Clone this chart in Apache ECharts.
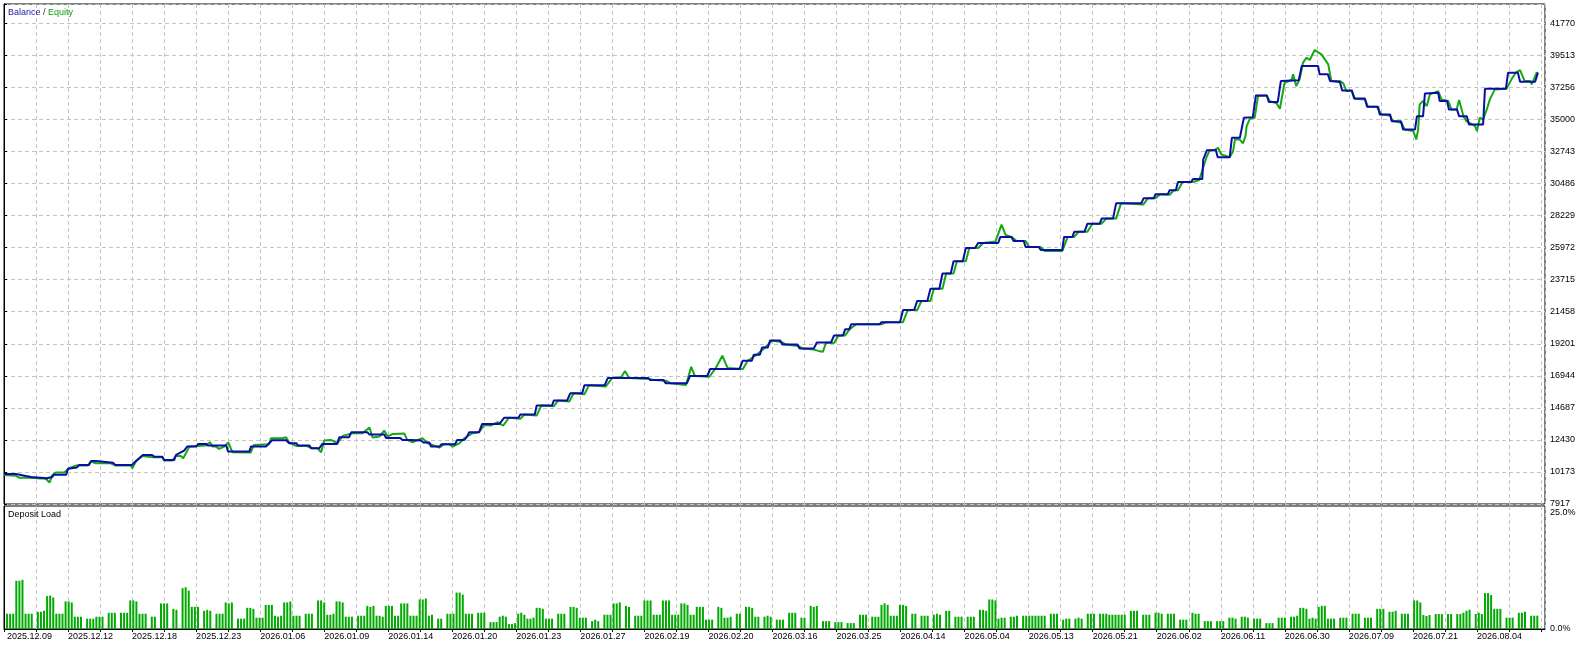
<!DOCTYPE html>
<html><head><meta charset="utf-8">
<script src="https://cdn.jsdelivr.net/npm/echarts@6/dist/echarts.min.js"></script>
<style>html,body{margin:0;padding:0;background:#fff;}#c{width:1590px;height:646px;}</style>
</head><body><div id="c"></div>
<script>
// ---- tick labels ----
const xTickLabels = ['2025.12.09','2025.12.12','2025.12.18','2025.12.23','2026.01.06','2026.01.09','2026.01.14','2026.01.20','2026.01.23','2026.01.27','2026.02.19','2026.02.20','2026.03.16','2026.03.25','2026.04.14','2026.05.04','2026.05.13','2026.05.21','2026.06.02','2026.06.11','2026.06.30','2026.07.09','2026.07.21','2026.08.04'];
const yTickLabels = ['7917','10173','12430','14687','16944','19201','21458','23715','25972','28229','30486','32743','35000','37256','39513','41770'];
const loadTickLabels = ['0.0%','25.0%'];

// ---- series (x = deal slot index) ----
const balance = [
[0,10033],[3.9,10033],[7.1,9892],[8.8,9821],[13.9,9730],[15.6,9821],[16.3,9984],[20.2,9984],[20.8,10407],[23.7,10491],[24.4,10668],[27.6,10668],[28.3,10950],[29.9,10950],[30.5,10830],[35.4,10830],[36.1,10668],[41.6,10668],[42.6,10900],[43.9,11140],[45.1,11373],[48.1,11373],[48.8,11253],[51.4,11253],[52,11020],[55.3,11020],[55.9,11373],[58.5,11676],[59.5,11958],[62.4,11958],[63.1,12149],[65.6,12149],[66.3,12029],[72.2,12029],[72.8,11606],[79.7,11606],[80.2,11958],[85.1,11958],[86.1,12198],[87.1,12410],[91.7,12410],[92.6,12198],[94.9,12198],[95.6,12029],[99.2,12029],[99.7,11845],[102.4,11845],[103.4,12149],[108.2,12149],[108.9,12621],[112.1,12621],[112.8,12974],[118,12974],[118.7,12805],[123.5,12805],[124.1,12572],[128.7,12572],[129.4,12431],[132.3,12431],[132.9,12381],[135.5,12381],[136.2,12240],[138.2,12240],[138.7,11958],[141.4,11958],[142.1,12128],[146.5,12128],[147.2,12431],[149.5,12431],[150.2,12593],[151.1,12974],[154.3,12974],[155.3,13559],[160.9,13559],
[162.5,13997],[167.1,13997],[167.7,14215],[172.4,14215],[173,14856],[178,14856],[178.6,15214],[182.9,15214],[183.9,15714],[187.8,15714],[188.5,16286],[195.1,16286],[196.1,16787],[209.3,16787],[209.9,16644],[214.2,16644],[214.9,16429],[221.8,16429],[222.8,16930],[228.4,16930],[229.4,17431],[238.9,17431],[239.9,18003],[242.9,18003],[243.5,18432],[245.5,18432],[246.2,18933],[248.1,18933],[248.8,19433],[252.1,19433],[252.8,19147],[257.7,19147],[258.4,18861],[263,18861],[264,19290],[268.6,19290],[269.6,19791],[272.5,19791],[273.2,20220],[274.5,20220],[275.2,20578],[284.4,20578],[285,20721],[291,20721],[292,21580],[295.6,21580],[296.6,22222],[299.9,22222],[300.9,23081],[303.8,23081],[304.8,24152],[307.5,24152],[308.4,25012],[311.4,25012],[312.4,25942],[315.4,25942],[316.4,26299],[322.9,26299],[323.6,26728],[327.2,26728],[327.9,26442],[331.2,26442],[331.8,26013],[336.1,26013],[336.8,25799],[343.7,25799],[344.3,26728],[347,26728],[347.6,27086],[350.9,27086],[351.9,27658],[355.9,27658],[356.5,28016],[360.2,28016],[361.2,29089],[369.4,29089],[370.1,29446],[373.4,29446],[374,29732],[378,29732],[378.6,30018],[380.6,30018],[381.3,30590],[385.5,30590],[386.2,30805],[389.2,30805],[389.5,32179],
[390.7,32835],[393.6,32835],[394.2,32342],[398.1,32342],[398.8,33710],[401.4,33710],[402.7,35120],[405.6,35163],[406.6,36693],[410.2,36693],[410.8,36221],[413.7,36221],[414.7,37702],[420.5,37752],[421.5,38760],[426.8,38760],[427.3,38174],[430,38174],[430.7,37702],[433.9,37632],[434.6,37046],[437.8,37046],[438.5,36482],[442,36482],[442.7,35896],[446.3,35896],[446.8,35353],[450.2,35353],[450.7,34881],[453.7,34881],[454.4,34295],[458.3,34295],[458.9,35233],[460.9,35233],[461.5,36834],[465.8,36884],[466.3,36291],[468.7,36291],[469.3,35706],[471.9,35706],[472.6,35233],[475.1,35233],[475.8,34648],[480.4,34648],[481,37166],[487.8,37166],[488.5,38294],[491.7,38294],[492.4,37660],[497.3,37660],[498.2,38294]
];
const equity = [
[0,9962],[3.8,9915],[4.9,9774],[8.1,9774],[8.7,9704],[11.9,9704],[12.5,9610],[13,9727],[14,9610],[14.8,9422],[15.7,9962],[16.8,10127],[19.5,10127],[20.1,10197],[21.2,10433],[23.3,10620],[27.1,10620],[28.2,10903],[29.8,10785],[34.7,10785],[35.2,10832],[36.3,10620],[41.1,10620],[41.7,10433],[42.8,10903],[44.9,11302],[48.2,11208],[51.5,11208],[52,10973],[54.7,10973],[55.8,11302],[57.4,11302],[58.2,11138],[59.1,11490],[60.2,11961],[65.5,12031],[66.9,12266],[67.7,11961],[68.8,11961],[69.9,11796],[71.5,11961],[72.9,12243],[74.2,11561],[80.1,11537],[81.2,12078],[86.1,12125],[86.7,12548],[90.5,12548],[91.6,12619],[92.6,12266],[94.8,12008],[98.1,12008],[100.2,11843],[101.8,11843],[103,11561],[104,12384],[106.2,12431],[108.3,12196],[110,12713],[113.2,12901],[116.4,12901],[117,12830],[118.7,13301],[119.7,12595],[121.9,12666],[123.5,13089],[124.6,12666],[126.2,12854],[130,12878],[131,12431],[132.7,12266],[134.4,12431],[135.9,12548],[137.6,12196],[141.4,11890],[143,12125],[144.6,12125],[145.7,11961],[147.9,12196],[149.5,12548],[152.2,12901],[154.3,12972],[156,13489],[158.1,13442],[160.3,13677],
[162.1,13426],[164,13997],[167.8,13926],[169,14215],[173,14141],[174.5,14856],[178.6,14800],[180,15214],[183.6,15142],[185,15714],[188.5,15640],[190,16286],[195.5,16200],[197.5,16787],[200.5,16859],[201.7,17288],[203,16787],[209.3,16720],[211,16644],[214.9,16600],[216.5,16429],[221.5,16300],[223.2,17574],[224.4,16930],[229.1,16880],[231,17431],[233.3,18360],[235,17500],[240,17431],[241.5,18003],[244,18360],[246.5,18800],[249.5,19433],[252.8,19300],[254,19147],[258,19050],[259.4,18861],[263,18800],[264.5,18700],[266,18647],[267,19290],[269.6,19250],[271,19791],[273.2,19791],[274.6,20220],[276.9,20578],[285,20578],[286.5,20721],[292,20721],[293.5,21580],[296.6,21580],[298,22222],[300.9,22222],[302,23081],[304.8,23081],[306,24152],[308.4,24152],[309.5,25012],[312.4,25012],[313.5,25942],[316.4,25942],[318,26299],[322,26400],[324,27587],[325.3,26871],[327.2,26728],[328.9,26442],[331.8,26442],[333,26013],[336.8,26013],[338,25727],[343.7,25727],[345.5,26728],[347.6,26728],[349,27086],[351.9,27086],[353.5,27658],[356.5,27658],[358,28016],[361.2,28016],[362.8,29089],[370.1,29017],[371.5,29446],[374,29446],[375.5,29732],[378.6,29700],[380,30018],[381.3,30018],[382.8,30590],[386.2,30590],[388.2,30733],
[390.5,32297],[391.6,32837],[393.2,32837],[394.3,33002],[395.4,32532],[398.1,32344],[399.2,32767],[399.8,33590],[401.3,33590],[402.4,33308],[403.2,33825],[403.6,34530],[404.6,35047],[406.2,35118],[407.3,36646],[410,36693],[411.1,36293],[413.3,36129],[414.4,35753],[415.9,37586],[418.2,37775],[418.7,38174],[419.7,37351],[420.8,37822],[421.9,38997],[423.1,39350],[424.1,39185],[425.7,39890],[427.9,39585],[430.1,38879],[431.1,37704],[433.9,37704],[435,37539],[436,36999],[437.7,36999],[438.8,36458],[442,36411],[443,35894],[445.8,35894],[447.4,35353],[450.1,35282],[451.1,34883],[453.9,34765],[454.9,34295],[457.7,34178],[458.7,33590],[459.3,34295],[459.8,36058],[460.9,36293],[462.1,35941],[463.1,36764],[465.8,36999],[466.9,36411],[469.1,36293],[470.1,35706],[471.8,35706],[472.6,36364],[474,35235],[475,34883],[477.8,34530],[478.4,34178],[479.3,35118],[480.4,35000],[481.6,35706],[482.6,36411],[484.2,37116],[488,37163],[489.6,37822],[491,38292],[492.4,38480],[493.9,37704],[495.6,37704],[496.2,37469],[497.8,38294],[498.2,38294]
];
// deposit load in %, one value per slot (null = no bar)
const depositLoad = [
3.1,3.1,3.1,9.8,9.8,10.0,3.1,3.1,3.1,null,3.5,3.5,3.7,6.7,6.8,6.4,3.1,3.1,3.1,5.6,5.6,5.4,2.5,2.5,2.5,null,2.1,2.1,2.1,2.5,2.5,2.5,null,3.3,3.3,3.3,null,3.3,3.3,3.3,
5.8,5.8,5.6,3.1,3.1,3.1,null,2.5,2.5,null,5.2,5.2,5.2,null,4.1,3.9,null,8.3,8.5,7.8,4.5,4.5,4.5,null,3.7,3.9,3.7,null,3.1,3.1,3.1,5.4,5.2,5.4,null,2.1,2.1,2.1,4.3,4.3,
4.1,2.3,2.3,2.3,4.9,4.9,4.9,2.7,2.5,2.7,5.4,5.4,5.6,2.7,2.7,2.7,null,3.1,3.1,3.1,null,5.8,5.8,5.4,2.9,2.9,3.1,5.6,5.6,5.4,2.5,2.5,2.5,null,2.7,2.7,2.7,4.7,4.5,4.7,
2.7,2.7,2.5,4.7,4.7,4.7,2.7,2.7,5.2,5.2,5.2,2.7,2.7,2.7,6.0,6.0,6.2,2.7,2.9,null,2.1,2.1,null,3.1,3.1,3.1,7.4,7.4,7.0,3.1,3.1,3.1,null,3.3,3.3,3.3,null,1.4,1.4,1.4,
2.5,2.7,2.5,1.0,1.0,1.2,3.1,3.3,2.9,2.1,2.1,2.3,4.3,4.3,4.1,2.1,2.1,2.1,null,3.1,3.1,3.1,null,4.5,4.5,4.3,2.3,2.3,2.3,null,1.6,1.9,1.6,null,2.9,2.9,2.9,5.2,5.2,5.4,
null,4.7,4.5,null,2.7,2.7,2.7,5.8,5.8,5.8,2.9,2.9,2.9,5.8,5.8,5.8,2.9,2.9,2.9,5.2,5.2,4.9,2.9,2.9,4.5,4.5,4.5,1.9,1.9,1.9,null,4.5,4.3,2.3,2.3,2.5,null,3.1,3.1,null,
4.5,4.5,4.3,2.5,2.5,null,2.5,2.7,2.5,null,1.9,1.9,1.9,null,3.3,3.3,3.3,null,2.3,2.3,null,4.7,4.5,4.7,null,1.6,1.6,1.6,null,1.4,1.4,1.4,null,1.2,1.2,1.2,null,2.9,2.9,2.9,
null,2.5,2.5,2.5,4.9,5.2,4.9,2.7,2.7,2.7,4.9,4.9,4.7,null,3.1,3.1,null,2.7,2.7,2.7,null,2.9,3.1,2.9,null,3.7,3.7,null,2.5,2.5,2.5,null,2.5,2.5,2.5,null,3.9,3.9,3.7,6.0,
6.0,5.8,2.1,2.3,2.3,null,2.5,2.5,2.7,null,2.7,2.7,2.7,2.7,2.7,2.7,2.7,2.7,null,3.1,3.1,3.1,null,1.9,2.1,2.1,null,2.1,2.3,2.1,null,3.1,3.1,3.1,null,3.1,3.1,3.1,2.9,2.9,
2.9,2.9,2.9,2.9,null,3.7,3.7,3.7,null,2.9,2.9,2.9,null,3.3,3.3,3.1,null,3.1,3.1,3.1,null,1.9,1.9,1.9,null,3.3,3.1,3.1,null,1.6,1.6,1.6,null,1.6,1.6,1.6,null,2.3,2.3,2.1,
null,2.5,2.5,2.3,null,2.1,2.1,2.1,null,1.2,1.2,1.2,null,2.3,2.3,2.3,null,2.5,2.5,2.7,4.3,4.3,4.1,2.1,2.3,2.1,4.5,4.7,4.7,2.1,2.1,2.1,null,2.3,2.3,2.3,null,3.1,3.1,3.1,
null,2.3,2.3,2.3,null,4.1,4.1,4.1,null,3.5,3.5,3.7,null,3.1,3.1,3.1,null,5.8,5.8,5.4,2.85,2.64,2.85,null,3.05,3.05,3.05,null,3.05,3.05,null,3.05,3.05,3.3,3.7,3.9,null,3.05,
3.3,3.05,7.3,7.3,6.9,4.1,4.1,4.1,null,2.3,2.3,2.3,null,3.3,3.3,3.5,null,2.7,2.7,2.7
];

// ---- axis scale setup from tick labels ----
const yMin = Number(yTickLabels[0]);
const yStep = (Number(yTickLabels[yTickLabels.length - 1]) - yMin) / (yTickLabels.length - 1);
const yMax = 43130;
const X_STEP = 10.4;   // one grid column
const X_MAX = 500.5;

const FONT = "'Liberation Sans', Arial, sans-serif";
const GRID_LINE = { show: true, lineStyle: { color: '#c4c4c4', type: [4, 3], width: 1 } };

const chart = echarts.init(document.getElementById('c'), null, { renderer: 'canvas' });
chart.setOption({
  animation: false,
  backgroundColor: '#ffffff',
  grid: [
    { left: 4, right: 45, top: 4, height: 500, show: true, borderColor: '#000', borderWidth: 1, containLabel: false },
    { left: 4, right: 45, top: 506, height: 123, show: true, borderColor: '#000', borderWidth: 1, containLabel: false }
  ],
  xAxis: [
    { type: 'value', gridIndex: 0, min: 0, max: X_MAX, interval: X_STEP,
      axisLine: { show: false }, axisTick: { show: false }, axisLabel: { show: false }, splitLine: GRID_LINE },
    { type: 'value', gridIndex: 1, min: 0, max: X_MAX, interval: X_STEP,
      axisLine: { show: true, lineStyle: { color: '#000', width: 1 } },
      axisTick: { show: true, length: 3, lineStyle: { color: '#000' } },
      axisLabel: { show: true, color: '#000', fontFamily: FONT, fontSize: 9, align: 'left', margin: 3,
        showMinLabel: true, showMaxLabel: false,
        formatter: function (v) {
          const k = Math.round(v / X_STEP);
          if (Math.abs(v - k * X_STEP) > 1e-3 || k % 2) return '';
          const t = xTickLabels[k / 2] || '';
          return k === 0 ? '{f|' + t + '}' : t;
        },
        rich: { f: { fontFamily: FONT, fontSize: 9, color: '#000', padding: [0, 0, 0, 3] } } },
      splitLine: GRID_LINE }
  ],
  yAxis: [
    { type: 'value', gridIndex: 0, position: 'right', min: yMin, max: yMax, interval: yStep,
      axisLine: { show: true, lineStyle: { color: '#000', width: 1 } },
      axisTick: { show: true, length: 3, lineStyle: { color: '#000' } },
      axisLabel: { show: true, color: '#000', fontFamily: FONT, fontSize: 9, margin: 5,
        formatter: function (v) {
          const k = Math.round((v - yMin) / yStep);
          if (Math.abs(v - (yMin + k * yStep)) > 1) return '';
          return yTickLabels[k] || '';
        } },
      splitLine: GRID_LINE },
    { type: 'value', gridIndex: 1, position: 'right', min: 0, max: 25, interval: 25,
      axisLine: { show: true, lineStyle: { color: '#000', width: 1 } },
      axisTick: { show: false },
      axisLabel: { show: true, color: '#000', fontFamily: FONT, fontSize: 9, margin: 5,
        formatter: function (v) { return v === 0 ? '{b|' + loadTickLabels[0] + '}' : '{t|' + loadTickLabels[1] + '}'; },
        rich: {
          b: { fontFamily: FONT, fontSize: 9, color: '#000' },
          t: { fontFamily: FONT, fontSize: 9, color: '#000', padding: [14, 0, 0, 0] }
        } },
      splitLine: { show: false } }
  ],
  series: [
    { name: 'Equity', type: 'line', xAxisIndex: 0, yAxisIndex: 0, data: equity,
      showSymbol: false, symbol: 'none', lineStyle: { color: '#14a814', width: 2 }, z: 2 },
    { name: 'Balance', type: 'line', xAxisIndex: 0, yAxisIndex: 0, data: balance,
      showSymbol: false, symbol: 'none', lineStyle: { color: '#0c0ca6', width: 2 }, z: 3 },
    { name: 'Deposit Load', type: 'bar', xAxisIndex: 1, yAxisIndex: 1, barWidth: 2,
      data: depositLoad.map(function (v, i) { return [i + 1, v]; }).filter(function (d) { return d[1] != null; }),
      itemStyle: { color: '#00aa00' } }
  ],
  graphic: [
    { type: 'text', left: 8, top: 8, z: 10,
      style: { text: '{b|Balance}{s| / }{e|Equity}',
        rich: {
          b: { fill: '#1a1aa0', fontSize: 9, fontFamily: FONT },
          s: { fill: '#333', fontSize: 9, fontFamily: FONT },
          e: { fill: '#10a010', fontSize: 9, fontFamily: FONT }
        } } },
    { type: 'text', left: 8, top: 510, z: 10,
      style: { text: 'Deposit Load', fill: '#000', fontSize: 9, fontFamily: FONT } }
  ]
});
</script>
</body></html>
